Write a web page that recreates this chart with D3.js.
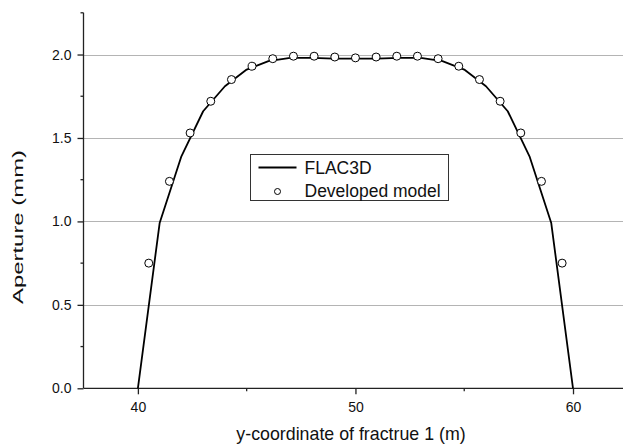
<!DOCTYPE html>
<meta charset="utf-8">
<head>
<style>
  body { margin: 0; background: #fff; }
  text { font-family: "Liberation Sans", Arial, sans-serif; fill: #111; }
  .grid line { stroke: #b4b4b4; stroke-width: 1; shape-rendering: crispEdges; }
  .axis path, .axis line { stroke: #222; stroke-width: 1.3; fill: none; }
</style>
</head>
<body>
<script src="https://d3js.org/d3.v7.min.js"></script>
<script>
// FLAC3D line (nodes)
var flacX = [40, 41, 42, 43, 44, 45, 46, 47, 48, 49, 50, 51, 52, 53, 54, 55, 56, 57, 58, 59, 60];
var flacY = [0, 0.99, 1.39, 1.66, 1.81, 1.91, 1.96, 1.98, 1.98, 1.975, 1.975, 1.975, 1.98, 1.98, 1.96, 1.91, 1.81, 1.66, 1.39, 0.99, 0];

// developed model (circles)
var modelX = [40.5, 41.45, 42.4, 43.35, 44.3, 45.25, 46.2, 47.15, 48.1, 49.05, 50.0,
              50.95, 51.9, 52.85, 53.8, 54.75, 55.7, 56.65, 57.6, 58.55, 59.5];
var modelY = [0.75, 1.24, 1.53, 1.72, 1.85, 1.93, 1.975, 1.99, 1.99, 1.985, 1.98,
              1.985, 1.99, 1.99, 1.975, 1.93, 1.85, 1.72, 1.53, 1.24, 0.75];

var xTicks = [40, 50, 60];
var xMinor = [45, 55];
var yTicks = [0, 0.5, 1.0, 1.5, 2.0];
var yMinor = [0.25, 0.75, 1.25, 1.75, 2.25];
var gridY = [0.5, 1.0, 1.5, 2.0];
var legendLabels = ["FLAC3D", "Developed model"];

var width = 623, height = 446;

var x = d3.scaleLinear().domain([37.5, 62.5]).range([83.5, 627.4]);
var y = d3.scaleLinear().domain([0, 2.25]).range([388.3, 12.8]);

var svg = d3.select("body").append("svg")
    .attr("width", width)
    .attr("height", height);

// gridlines
svg.append("g").attr("class", "grid")
  .selectAll("line").data(gridY).enter().append("line")
    .attr("x1", x(37.5)).attr("x2", width)
    .attr("y1", function(d) { return Math.round(y(d)) + 0.5; })
    .attr("y2", function(d) { return Math.round(y(d)) + 0.5; });

// x axis
var xAxis = d3.axisBottom(x).tickValues(xTicks).tickSize(6).tickPadding(8)
    .tickFormat(d3.format("d"));
var gx = svg.append("g").attr("class", "axis")
    .attr("transform", "translate(0," + y(0) + ")")
    .call(xAxis);
gx.select(".domain").attr("d", "M" + x(37.5) + ",0H" + width);
gx.selectAll("text").style("font-size", "14px");
gx.selectAll(".minor").data(xMinor).enter().append("line")
    .attr("class", "minor")
    .attr("x1", function(d) { return x(d); }).attr("x2", function(d) { return x(d); })
    .attr("y1", 0).attr("y2", 3);

// y axis
var yAxis = d3.axisLeft(y).tickValues(yTicks).tickSize(6).tickPadding(6)
    .tickFormat(d3.format(".1f"));
var gy = svg.append("g").attr("class", "axis")
    .attr("transform", "translate(" + x(37.5) + ",0)")
    .call(yAxis);
gy.select(".domain").attr("d", "M0," + y(2.25) + "V" + y(0));
gy.selectAll("text").style("font-size", "14px");
gy.selectAll(".minor").data(yMinor).enter().append("line")
    .attr("class", "minor")
    .attr("x1", -3).attr("x2", 0)
    .attr("y1", function(d) { return y(d); }).attr("y2", function(d) { return y(d); });

// axis titles
svg.append("text")
    .attr("x", 351).attr("y", 440)
    .attr("text-anchor", "middle")
    .style("font-size", "17.8px")
    .text("y-coordinate of fractrue 1 (m)");

svg.append("text")
    .attr("transform", "translate(23,227) rotate(-90)")
    .attr("text-anchor", "middle")
    .attr("textLength", 154)
    .attr("lengthAdjust", "spacingAndGlyphs")
    .style("font-size", "15px")
    .text("Aperture (mm)");

// FLAC3D line
var line = d3.line()
    .x(function(d, i) { return x(flacX[i]); })
    .y(function(d) { return y(d); });

svg.append("path")
    .datum(flacY)
    .attr("d", line)
    .attr("fill", "none")
    .attr("stroke", "#000")
    .attr("stroke-width", 1.8)
    .attr("stroke-linejoin", "round");

// model circles
svg.selectAll(".pt").data(modelY).enter().append("circle")
    .attr("class", "pt")
    .attr("cx", function(d, i) { return x(modelX[i]); })
    .attr("cy", function(d) { return y(d); })
    .attr("r", 4)
    .attr("fill", "#fff")
    .attr("stroke", "#000")
    .attr("stroke-width", 1);

// legend
var lg = svg.append("g").attr("transform", "translate(250.5,154.5)");
lg.append("rect")
    .attr("width", 198).attr("height", 46)
    .attr("fill", "#fff").attr("stroke", "#333").attr("stroke-width", 1);
lg.append("line")
    .attr("x1", 8).attr("x2", 46).attr("y1", 13).attr("y2", 13)
    .attr("stroke", "#000").attr("stroke-width", 1.8);
lg.append("circle")
    .attr("cx", 27).attr("cy", 37).attr("r", 3)
    .attr("fill", "#fff").attr("stroke", "#000").attr("stroke-width", 1);
lg.selectAll(".lt").data(legendLabels).enter().append("text")
    .attr("class", "lt")
    .attr("x", 54)
    .attr("y", function(d, i) { return 19 + i * 23; })
    .style("font-size", "17.5px")
    .text(function(d) { return d; });
</script>
</body>
